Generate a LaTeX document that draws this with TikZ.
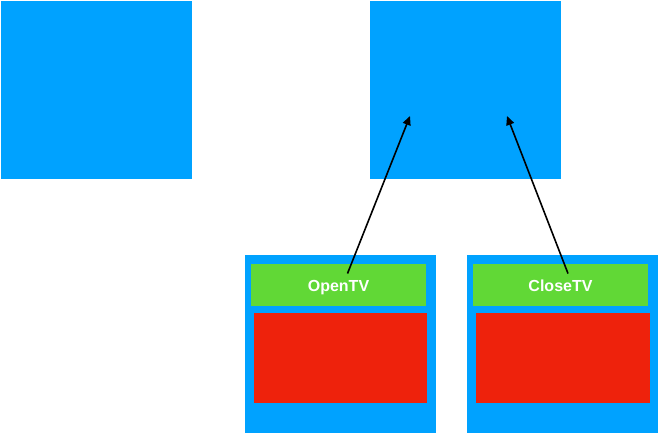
\documentclass[tikz,border=0pt]{standalone}
\usepackage{fontspec}
\setmainfont{Liberation Sans}
\usetikzlibrary{arrows.meta}
\definecolor{cblue}{RGB}{0,162,255}
\definecolor{cgreen}{RGB}{97,216,54}
\definecolor{cred}{RGB}{238,34,12}
\tikzset{
  bluebox/.style={fill=cblue, draw=none},
  greenbar/.style={fill=cgreen, draw=none},
  redbox/.style={fill=cred, draw=none},
  lbl/.style={text=white, anchor=base, inner sep=0pt, font=\bfseries\fontsize{16}{19}\selectfont},
  conn/.style={-{Triangle[length=9pt,width=8pt]}, line width=1.6pt, black}
}
\begin{document}
\begin{tikzpicture}[x=1pt,y=-1pt]
\useasboundingbox (0,0) rectangle (659,434);
\path[bluebox] (1,1) rectangle (192,179);
\path[bluebox] (370,1) rectangle (561,179);
\path[bluebox] (245,255) rectangle (436,433);
\path[bluebox] (467,255) rectangle (658,433);
\path[greenbar] (251,264) rectangle (426,306);
\path[greenbar] (473,264) rectangle (648,306);
\path[redbox] (254,313) rectangle (427,403);
\path[redbox] (476,313) rectangle (650,403);
\node[lbl] (open) at (338.5,291) {OpenTV};
\node[lbl] (close) at (560.5,291) {CloseTV};
\coordinate (os) at (347.5,273.5);
\coordinate (cs) at (568,273.5);
\coordinate (ot) at (410,116);
\coordinate (ct) at (507,116);
\draw[conn] (os) -- (ot);
\draw[conn] (cs) -- (ct);
\end{tikzpicture}
\end{document}
